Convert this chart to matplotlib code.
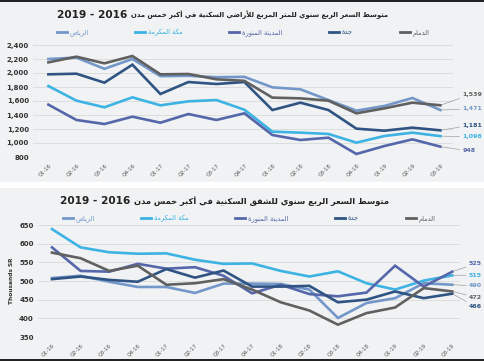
import unicodedata
import matplotlib
matplotlib.use("Agg")
import matplotlib.pyplot as plt
from matplotlib.patches import Rectangle

# ---- data -------------------------------------------------------------
quarters = ["Q1-16", "Q2-16", "Q3-16", "Q4-16", "Q1-17", "Q2-17", "Q3-17", "Q4-17",
            "Q1-18", "Q2-18", "Q3-18", "Q4-18", "Q1-19", "Q2-19", "Q3-19"]

cities = ["الرياض", "مكة المكرمة", "المدينة المنورة", "جدة", "الدمام"]
colors = ["#7397c9", "#3db3e4", "#5567aa", "#2f5483", "#606060"]

# land, SR per square metre
land_riyadh = [2200, 2220, 2060, 2200, 1955, 1960, 1940, 1945, 1795, 1767, 1614, 1462, 1529, 1643, 1471]
land_makkah = [1814, 1605, 1510, 1652, 1538, 1595, 1614, 1475, 1162, 1148, 1129, 1005, 1100, 1148, 1098]
land_madinah = [1548, 1329, 1271, 1376, 1290, 1414, 1329, 1424, 1114, 1043, 1076, 843, 957, 1052, 948]
land_jeddah = [1981, 1990, 1862, 2119, 1700, 1871, 1843, 1871, 1471, 1576, 1471, 1205, 1176, 1219, 1181]
land_dammam = [2152, 2233, 2138, 2243, 1981, 1986, 1910, 1888, 1648, 1638, 1605, 1424, 1495, 1576, 1539]

# apartments, thousand SR
apt_riyadh = [508, 514, 498, 484, 484, 468, 493, 493, 492, 477, 401, 441, 454, 494, 490]
apt_makkah = [639, 590, 577, 573, 574, 557, 546, 547, 527, 512, 526, 494, 477, 501, 515]
apt_madinah = [590, 527, 525, 546, 533, 537, 514, 467, 490, 465, 459, 469, 541, 485, 525]
apt_jeddah = [505, 512, 503, 498, 532, 509, 528, 485, 485, 487, 443, 450, 472, 454, 466]
apt_dammam = [576, 561, 527, 541, 490, 494, 505, 477, 443, 421, 383, 414, 429, 481, 472]

land_ticks = [800, 1000, 1200, 1400, 1600, 1800, 2000, 2200, 2400]
apt_ticks = [350, 400, 450, 500, 550, 600, 650]

land_series = [land_riyadh, land_makkah, land_madinah, land_jeddah, land_dammam]
apt_series = [apt_riyadh, apt_makkah, apt_madinah, apt_jeddah, apt_dammam]

# end labels: (series index, text, label height in data units)
land_end = [(4, "1,539", 1700), (0, "1,471", 1486), (3, "1,181", 1257), (1, "1,098", 1086), (2, "948", 886)]
apt_end = [(2, "525", 546), (1, "515", 516), (0, "490", 487), (4, "472", 457), (3, "466", 431)]


# ---- minimal arabic shaping (matplotlib has no bidi / joining) ----------
FORMS, LIG = {}, {}
for cp in range(0xFE70, 0xFF00):
    d = unicodedata.decomposition(chr(cp))
    if not d.startswith("<"):
        continue
    tag, *codes = d.split()
    chars = [chr(int(c, 16)) for c in codes]
    if len(chars) == 1:
        FORMS.setdefault(chars[0], {})[tag] = chr(cp)
    elif len(chars) == 2 and chars[0] == "\u0644":
        LIG.setdefault(tuple(chars), {})[tag] = chr(cp)


def ar(text):
    seq, i = [], 0
    while i < len(text):
        if text[i] == "\u0644" and i + 1 < len(text) and ("\u0644", text[i + 1]) in LIG:
            seq.append(("\u0644", text[i + 1]))
            i += 2
        else:
            seq.append(text[i])
            i += 1

    def joins_next(c):
        return not isinstance(c, tuple) and "<initial>" in FORMS.get(c, {})

    def joins_prev(c):
        return isinstance(c, tuple) or "<final>" in FORMS.get(c, {})

    out = []
    for k, c in enumerate(seq):
        p = seq[k - 1] if k > 0 else None
        n = seq[k + 1] if k + 1 < len(seq) else None
        jp = p is not None and joins_next(p) and joins_prev(c)
        jn = n is not None and joins_next(c) and joins_prev(n)
        if isinstance(c, tuple):
            out.append(LIG[c]["<final>" if jp else "<isolated>"])
            continue
        if c not in FORMS:
            out.append(c)
            continue
        tag = "<medial>" if jp and jn else "<final>" if jp else "<initial>" if jn else "<isolated>"
        f = FORMS[c]
        out.append(f.get(tag, f.get("<final>" if jp else "<isolated>", c)))
    return "".join(reversed(out))


years = "2019 - 2016"
title_land = ar("متوسط السعر الربع سنوي للمتر المربع للأراضي السكنية في أكبر خمس مدن")
title_apt = ar("متوسط السعر الربع سنوي للشقق السكنية في أكبر خمس مدن")

# ---- figure -----------------------------------------------------------
fig = plt.figure(figsize=(4.85, 3.61), dpi=100)
fig.patch.set_facecolor("white")
W, H = 485.0, 361.0
renderer = fig.canvas.get_renderer()


def band(y0, y1, color):
    fig.patches.append(Rectangle((0, 1 - y1 / H), 1, (y1 - y0) / H, transform=fig.transFigure,
                                 facecolor=color, edgecolor="none", zorder=-10))


band(0, 182, "#f1f2f3")
band(188, 359, "#f1f2f3")
band(0, 2, "#222222")
band(358.5, 361, "#222222")

ax1 = fig.add_axes([33 / W, 1 - 157 / H, 420 / W, 112 / H])
ax2 = fig.add_axes([38 / W, 1 - 337 / H, 422 / W, 112 / H])

x = list(range(len(quarters)))

for ax, series, ticks, ylim, xlim, ends, lx in [
    (ax1, land_series, land_ticks, (800, 2400), (-0.55, 14.45), land_end, 14.78),
    (ax2, apt_series, apt_ticks, (350, 650), (-0.49, 14.27), apt_end, 14.58),
]:
    ax.set_facecolor("none")
    for name, vals, c in zip(cities, series, colors):
        ax.plot(x, vals, color=c, lw=1.9, solid_joinstyle="miter", label=ar(name))
    ax.set_xlim(*xlim)
    ax.set_ylim(*ylim)
    ax.set_yticks(ticks)
    ax.set_yticklabels([f"{t:,}" for t in ticks], fontsize=5, fontweight="bold", color="#333333")
    ax.set_xticks(x)
    ax.set_xticklabels(quarters, rotation=45, ha="right", va="top", rotation_mode="anchor",
                       fontsize=3.8, color="#555555")
    ax.tick_params(length=0, pad=3)
    ax.tick_params(axis="x", pad=4)
    for s in ax.spines.values():
        s.set_visible(False)
    ax.grid(axis="y", color="#d9d9d9", lw=0.6)
    ax.set_axisbelow(True)
    for idx, txt, ly in ends:
        ax.annotate(txt, xy=(x[-1], series[idx][-1]), xytext=(lx, ly), textcoords="data",
                    fontsize=4.5, fontweight="bold", color=colors[idx], ha="left", va="center",
                    annotation_clip=False,
                    arrowprops=dict(arrowstyle="-", color="#a0a0a0", lw=0.5, shrinkA=0, shrinkB=1))

# titles: years on the left, arabic text right after them, sized to fit
for ax, title, ty, x0, x1, ly in [(ax1, title_land, 15, 57, 388, 33),
                                   (ax2, title_apt, 201, 60, 392, 219)]:
    yt = fig.text(x0 / W, 1 - ty / H, years, ha="left", va="center", fontsize=7.6,
                  fontweight="bold", color="#222222")
    ystart = yt.get_window_extent(renderer).x1 + 4
    at = fig.text(ystart / W, 1 - ty / H, title, ha="left", va="center", fontsize=6,
                  fontweight="bold", color="#222222")
    w = at.get_window_extent(renderer).width
    at.set_fontsize(min(7.2, 6 * (x1 - ystart) / w))
    cx = (ax.get_position().x0 + ax.get_position().x1) / 2
    leg = ax.legend(loc="center", bbox_to_anchor=(cx, 1 - ly / H), bbox_transform=fig.transFigure,
                    ncol=5, frameon=False, fontsize=4.8, handlelength=1.5, handletextpad=0.4,
                    columnspacing=7.0)
    for t, c in zip(leg.get_texts(), colors):
        t.set_color(c)
    for h in leg.get_lines():
        h.set_linewidth(2.0)

fig.text(12 / W, 1 - 281 / H, "Thousands SR", rotation=90, ha="center", va="center",
         fontsize=4.2, fontweight="bold", color="#333333")

fig.savefig("out.png", dpi=100)
